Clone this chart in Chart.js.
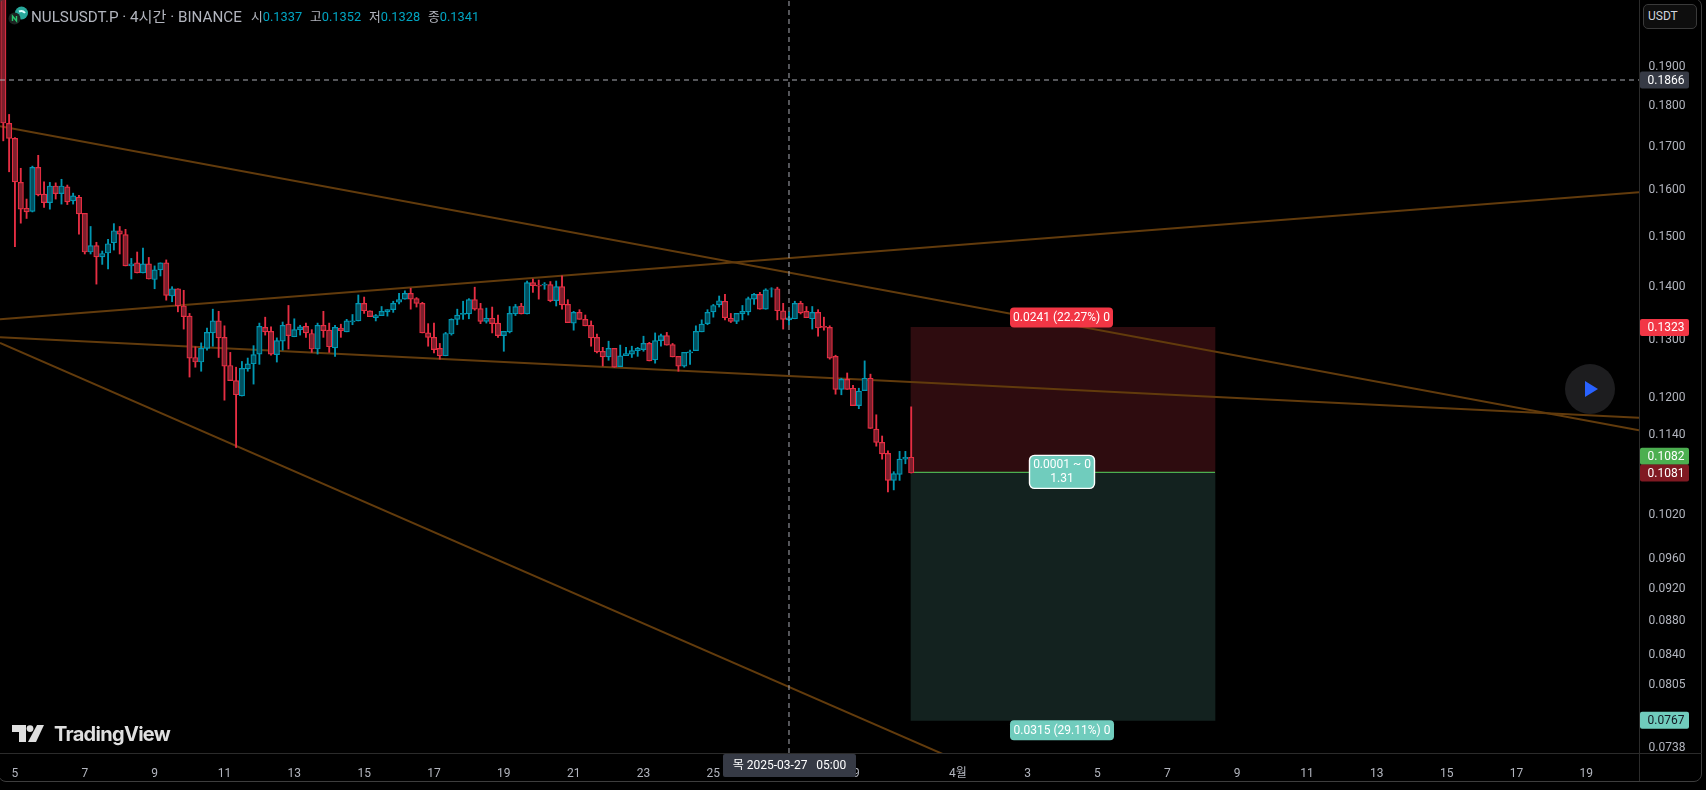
<!DOCTYPE html>
<html lang="ko">
<head>
<meta charset="utf-8">
<title>NULSUSDT.P 4시간</title>
<script src="https://cdn.jsdelivr.net/npm/chart.js@4/dist/chart.umd.min.js"></script>
<style>
html,body{margin:0;padding:0;background:#000;width:1706px;height:790px;overflow:hidden;font-family:Roboto,"Noto Sans CJK KR",sans-serif}
canvas{position:absolute;left:0;top:0}
.abs{position:absolute}
#frame{left:-2px;top:-2px;width:1702px;height:782px;border:1px solid #3d3d3d;border-radius:8px;pointer-events:none}
#hsep{left:0;top:753px;width:1702px;height:1px;background:#2b2b2b}
#vsep{left:1639px;top:0;width:1px;height:781px;background:#2b2b2b}
#title{left:31px;top:8px;font-size:15.2px;line-height:18px;color:#b2b5be;white-space:nowrap}
.ohlc{top:8px;font-size:12.8px;line-height:18px;color:#b2b5be;white-space:nowrap}
.ohlc b{font-weight:400;color:#00a5c2}
#unit{left:1643px;top:4px;width:48px;height:23px;padding-left:4px;border:1px solid #3a3a3a;border-radius:5px;background:#0e0e0e;color:#d1d4dc;font-size:12px;line-height:23px}
#brand{left:54px;top:722px;font-family:Inter,Lato,sans-serif;font-weight:700;font-size:20px;letter-spacing:-.7px;line-height:24px;color:#dfdfdf}
</style>
</head>
<body>
<canvas id="c" width="1706" height="790"></canvas>
<div class="abs" id="frame"></div>
<div class="abs" id="hsep"></div>
<div class="abs" id="vsep"></div>
<svg class="abs" style="left:8px;top:5px" width="22" height="22" viewBox="0 0 22 22">
  <circle cx="13.5" cy="8" r="6.5" fill="#27a79a"/><path d="M11 6.5a5 5 0 0 1 6 1.5" stroke="#dff" stroke-width="2" fill="none"/>
  <circle cx="6.5" cy="13.5" r="6" fill="#1d2422"/><path d="M4.5 16V11l4 5v-5" stroke="#28c76f" stroke-width="1.4" fill="none"/>
</svg>
<div class="abs" id="title">NULSUSDT.P · 4시간 · BINANCE</div>
<div class="abs ohlc" style="left:251px">시<b>0.1337</b></div>
<div class="abs ohlc" style="left:310px">고<b>0.1352</b></div>
<div class="abs ohlc" style="left:369px">저<b>0.1328</b></div>
<div class="abs ohlc" style="left:428px">종<b>0.1341</b></div>
<div class="abs" id="unit">USDT</div>
<svg class="abs" style="left:1565px;top:364px" width="50" height="50" viewBox="0 0 50 50">
  <circle cx="25" cy="25" r="25" fill="#1d1d1f"/><polygon points="20,17 33,25 20,33" fill="#2962ff"/>
</svg>
<svg class="abs" style="left:12px;top:725px" width="32" height="18" viewBox="0 0 32 18">
  <path d="M0 0H14V17H7V7H0Z" fill="#dfdfdf"/><circle cx="18" cy="3.6" r="3.4" fill="#dfdfdf"/><polygon points="25,0 32,0 24,17 16,17" fill="#dfdfdf"/>
</svg>
<div class="abs" id="brand">TradingView</div>
<script>
const opens=[.2200,.1756,.1720,.1618,.1561,.1554,.1652,.1592,.1573,.1610,.1593,.1608,.1577,.1585,.1550,.1469,.1482,.1459,.1467,.1488,.1513,.1505,.1441,.1447,.1427,.1445,.1414,.1433,.1447,.1382,.1396,.1363,.1344,.1269,.1261,.1285,.1313,.1335,.1305,.1255,.1229,.1203,.1249,.1258,.1275,.1323,.1316,.1274,.1298,.1329,.1306,.1319,.1325,.1312,.1284,.1327,.1318,.1286,.1322,.1315,.1333,.1335,.1368,.1354,.1341,.1345,.1352,.1356,.1370,.1376,.1387,.1377,.1368,.1313,.1305,.1285,.1272,.1311,.1338,.1347,.1348,.1375,.1358,.1334,.1340,.1331,.1308,.1315,.1348,.1363,.1348,.1408,.1403,.1403,.1404,.1373,.1400,.1366,.1331,.1351,.1338,.1327,.1305,.1280,.1270,.1285,.1253,.1272,.1275,.1281,.1283,.1294,.1265,.1299,.1308,.1292,.1271,.1254,.1277,.1281,.1315,.1330,.1352,.1365,.1372,.1340,.1334,.1348,.1352,.1376,.1385,.1357,.1395,.1396,.1354,.1337,.1339,.1368,.1353,.1339,.1351,.1325,.1323,.1271,.1214,.1231,.1216,.1187,.1212,.1233,.1149,.1128,.1111,.1070,.1079,.1102,.1105];
const highs=[.2400,.1778,.1722,.1650,.1581,.1655,.1680,.1619,.1618,.1617,.1625,.1612,.1594,.1589,.1550,.1522,.1489,.1471,.1495,.1528,.1522,.1516,.1456,.1469,.1477,.1458,.1441,.1447,.1453,.1400,.1396,.1393,.1349,.1288,.1295,.1322,.1357,.1353,.1326,.1278,.1252,.1262,.1268,.1290,.1331,.1342,.1324,.1304,.1333,.1364,.1339,.1327,.1331,.1319,.1331,.1353,.1331,.1327,.1329,.1338,.1347,.1384,.1380,.1354,.1347,.1362,.1356,.1372,.1387,.1392,.1397,.1379,.1370,.1330,.1331,.1294,.1314,.1339,.1357,.1372,.1377,.1399,.1368,.1359,.1361,.1346,.1316,.1362,.1366,.1368,.1411,.1415,.1413,.1408,.1410,.1411,.1421,.1375,.1353,.1356,.1346,.1335,.1311,.1287,.1298,.1285,.1291,.1287,.1289,.1287,.1307,.1296,.1313,.1311,.1314,.1294,.1271,.1278,.1282,.1326,.1337,.1356,.1366,.1382,.1385,.1349,.1349,.1364,.1380,.1387,.1389,.1396,.1398,.1399,.1368,.1352,.1372,.1372,.1362,.1362,.1356,.1342,.1326,.1273,.1233,.1242,.1221,.1216,.1263,.1240,.1172,.1138,.1115,.1083,.1114,.1114,.1185];
const lows=[.1714,.1642,.1480,.1529,.1539,.1553,.1588,.1563,.1559,.1581,.1570,.1569,.1570,.1506,.1465,.1465,.1405,.1444,.1435,.1473,.1465,.1441,.1415,.1427,.1427,.1415,.1396,.1421,.1374,.1371,.1352,.1320,.1235,.1252,.1245,.1282,.1289,.1269,.1196,.1229,.1120,.1203,.1245,.1223,.1257,.1309,.1273,.1261,.1282,.1284,.1306,.1309,.1305,.1278,.1275,.1305,.1278,.1271,.1305,.1315,.1328,.1335,.1349,.1343,.1335,.1345,.1344,.1351,.1367,.1376,.1357,.1361,.1313,.1289,.1277,.1266,.1272,.1309,.1328,.1338,.1339,.1355,.1330,.1331,.1313,.1305,.1280,.1313,.1345,.1348,.1348,.1389,.1376,.1395,.1371,.1363,.1357,.1332,.1318,.1338,.1326,.1289,.1277,.1254,.1264,.1252,.1253,.1272,.1269,.1271,.1280,.1263,.1259,.1289,.1291,.1270,.1245,.1252,.1257,.1281,.1315,.1328,.1342,.1361,.1337,.1332,.1330,.1337,.1346,.1366,.1357,.1357,.1380,.1337,.1320,.1328,.1339,.1348,.1341,.1320,.1307,.1318,.1266,.1206,.1205,.1214,.1187,.1182,.1212,.1150,.1122,.1102,.1053,.1056,.1070,.1095,.1081];
const closes=[.1757,.1720,.1619,.1559,.1553,.1652,.1590,.1573,.1610,.1593,.1610,.1575,.1588,.1549,.1469,.1482,.1459,.1466,.1486,.1513,.1506,.1441,.1445,.1427,.1445,.1415,.1433,.1447,.1383,.1396,.1363,.1343,.1268,.1261,.1285,.1314,.1335,.1304,.1254,.1229,.1205,.1250,.1258,.1274,.1325,.1315,.1275,.1299,.1327,.1308,.1319,.1324,.1313,.1284,.1327,.1317,.1288,.1323,.1317,.1335,.1335,.1368,.1354,.1343,.1345,.1353,.1356,.1368,.1375,.1387,.1376,.1368,.1313,.1305,.1283,.1272,.1312,.1338,.1346,.1349,.1375,.1357,.1334,.1340,.1330,.1308,.1316,.1349,.1362,.1348,.1408,.1402,.1401,.1405,.1373,.1400,.1365,.1332,.1351,.1338,.1326,.1304,.1279,.1270,.1285,.1252,.1272,.1276,.1281,.1285,.1294,.1263,.1299,.1308,.1291,.1270,.1254,.1278,.1279,.1316,.1329,.1351,.1364,.1373,.1341,.1334,.1349,.1353,.1377,.1385,.1357,.1394,.1396,.1354,.1338,.1341,.1368,.1350,.1341,.1351,.1322,.1323,.1268,.1214,.1231,.1214,.1187,.1211,.1233,.1150,.1128,.1110,.1070,.1080,.1102,.1105,.1081];

const priceTicks=[.19,.18,.17,.16,.15,.14,.13,.12,.114,.102,.096,.092,.088,.084,.0805,.0738];
const dayTickIndex=[2,14,26,38,50,62,74,86,98,110,122,134,146,164,176,188,200,212,224,236,248,260,272];
const dayTickLabels=['5','7','9','11','13','15','17','19','21','23','25','27','29','4월','3','5','7','9','11','13','15','17','19'];

const trendLines=[
  [[-0.567,.1749],[281.05,.1147]],
  [[-0.567,.1338],[281.05,.1596]],
  [[-0.567,.1305],[281.05,.1167]],
  [[-0.567,.1295],[161.8,.0731]]
];
const crossIndex=135, crossPrice=.1865;
const positionMid=182.08, positionEnds=[155.96,208.2];
const stopPrice=.1323, entryPrice=.1082, targetPrice=.0767;
const tagPrices=[.1865,.1323,.1082,.1081,.0767];
const tagTexts=['0.1866','0.1323','0.1082','0.1081','0.0767'];

const UP='#0097b2', UPF='#01505f', DN='#e62e43', DNF='#7c1f2c';
const idx=opens.map((_,i)=>i);
const isUp=i=>closes[i]>=opens[i];
const xMin=-0.567, xMax=281.05, yMin=.0733, yMax=.2084;

function pill(ctx,x,y,w,h,r,bg,stroke){
  ctx.beginPath();ctx.roundRect(x,y,w,h,r);ctx.fillStyle=bg;ctx.fill();
  if(stroke){ctx.lineWidth=1.4;ctx.strokeStyle=stroke;ctx.stroke();}
}
const overlay={
  id:'overlay',
  afterDraw(chart){
    const {ctx,scales:{x,y}}=chart;
    ctx.save();
    ctx.textBaseline='middle';
    ctx.font='12px Roboto';
    const xc=x.getPixelForValue(positionMid);
    ctx.textAlign='center';
    let py=y.getPixelForValue(stopPrice);
    pill(ctx,xc-53,py-20,103,20,4,'#f23645');
    ctx.fillStyle='#fff';ctx.fillText('0.0241 (22.27%) 0',xc-1.5,py-9.5);
    py=y.getPixelForValue(entryPrice);
    pill(ctx,xc-33.5,py-17,65,33,5,'#70ccbd','#ffffff');
    ctx.fillStyle='#fff';ctx.fillText('0.0001 ~ 0',xc-1,py-7);ctx.fillText('1.31',xc-1,py+7);
    py=y.getPixelForValue(targetPrice);
    pill(ctx,xc-53,py,104,20,4,'#70ccbd');
    ctx.fillStyle='#fff';ctx.fillText('0.0315 (29.11%) 0',xc-1,py+10.5);
    ctx.textAlign='left';
    const bgs=['#363a45','#f23645','#4caf50','#801922','#70ccbd'];
    const fgs=['#fff','#fff','#fff','#fff','#131722'];
    const shift=[0,0,-16,0,0];
    tagPrices.forEach((p,i)=>{
      const t=y.getPixelForValue(p)+shift[i];
      pill(ctx,1640,t-8.5,49,17,2,bgs[i]);
      ctx.fillStyle=fgs[i];ctx.fillText(tagTexts[i],1647.5,t+.5);
    });
    const cx=x.getPixelForValue(crossIndex);
    pill(ctx,cx-66,754,133,23,2,'#363a45');
    ctx.textAlign='center';ctx.fillStyle='#fff';
    ctx.font='12px Roboto,"Noto Sans CJK KR"';
    ctx.fillText('목 2025-03-27   05:00',cx+.5,766);
    ctx.restore();
  }
};

new Chart(document.getElementById('c'),{
  type:'bar',
  plugins:[overlay],
  data:{datasets:[
    {type:'bar',order:20,grouped:false,barThickness:304,backgroundColor:'#2e0c0f',borderWidth:0,
     data:[{x:positionMid,y:[entryPrice,stopPrice]}]},
    {type:'bar',order:20,grouped:false,barThickness:304,backgroundColor:'#13221f',borderWidth:0,
     data:[{x:positionMid,y:[targetPrice,entryPrice]}]},
    ...trendLines.map(l=>({type:'line',order:10,borderColor:'rgb(98,59,12)',borderWidth:2,pointRadius:0,
      data:l.map(p=>({x:p[0],y:p[1]}))})),
    {type:'line',order:9,borderColor:'#4caf50',borderWidth:1.2,pointRadius:0,
      data:positionEnds.map(v=>({x:v,y:entryPrice}))},
    {type:'bar',order:3,grouped:false,barThickness:1.2,borderWidth:0,
     backgroundColor:idx.map(i=>isUp(i)?UP:DN),
     data:idx.map(i=>({x:i,y:[lows[i],highs[i]]}))},
    {type:'bar',order:2,grouped:false,barThickness:5.4,borderWidth:1.2,borderSkipped:false,
     backgroundColor:idx.map(i=>isUp(i)?UPF:DNF),
     borderColor:idx.map(i=>isUp(i)?UP:DN),
     data:idx.map(i=>({x:i,y:[opens[i],closes[i]]}))},
    {type:'line',order:1,borderColor:'#a9acb4',borderWidth:1,borderDash:[5,4],pointRadius:0,
      data:[{x:crossIndex,y:yMin},{x:crossIndex,y:yMax}]},
    {type:'line',order:1,borderColor:'#a9acb4',borderWidth:1,borderDash:[5,4],pointRadius:0,
      data:[{x:xMin,y:crossPrice},{x:xMax,y:crossPrice}]}
  ]},
  options:{
    responsive:false,animation:false,events:[],
    layout:{padding:{left:0,top:0,right:4,bottom:9}},
    plugins:{legend:{display:false},tooltip:{enabled:false},title:{display:false}},
    scales:{
      x:{type:'linear',position:'bottom',min:xMin,max:xMax,offset:false,
        grid:{display:false,offset:false},border:{display:false},
        afterFit(s){s.height=28;s.paddingLeft=0;s.paddingRight=0;s.paddingTop=0;s.paddingBottom=0;},
        afterBuildTicks(s){s.ticks=dayTickIndex.map(v=>({value:v}));},
        ticks:{autoSkip:false,maxRotation:0,minRotation:0,padding:6,color:'#b2b5be',
          font:{family:'Roboto,"Noto Sans CJK KR"',size:12},
          callback:(v,i)=>dayTickLabels[i]}},
      y:{type:'logarithmic',position:'right',min:yMin,max:yMax,
        grid:{display:false},border:{display:false},
        afterFit(s){s.width=63;s.paddingTop=0;s.paddingBottom=0;s.paddingLeft=0;s.paddingRight=0;},
        afterBuildTicks(s){s.ticks=priceTicks.map(v=>({value:v}));},
        ticks:{autoSkip:false,padding:1.5,color:'#b2b5be',
          font:{family:'Roboto',size:12},
          callback:v=>Number(v).toFixed(4)}}
    }
  }
});
</script>
</body>
</html>
